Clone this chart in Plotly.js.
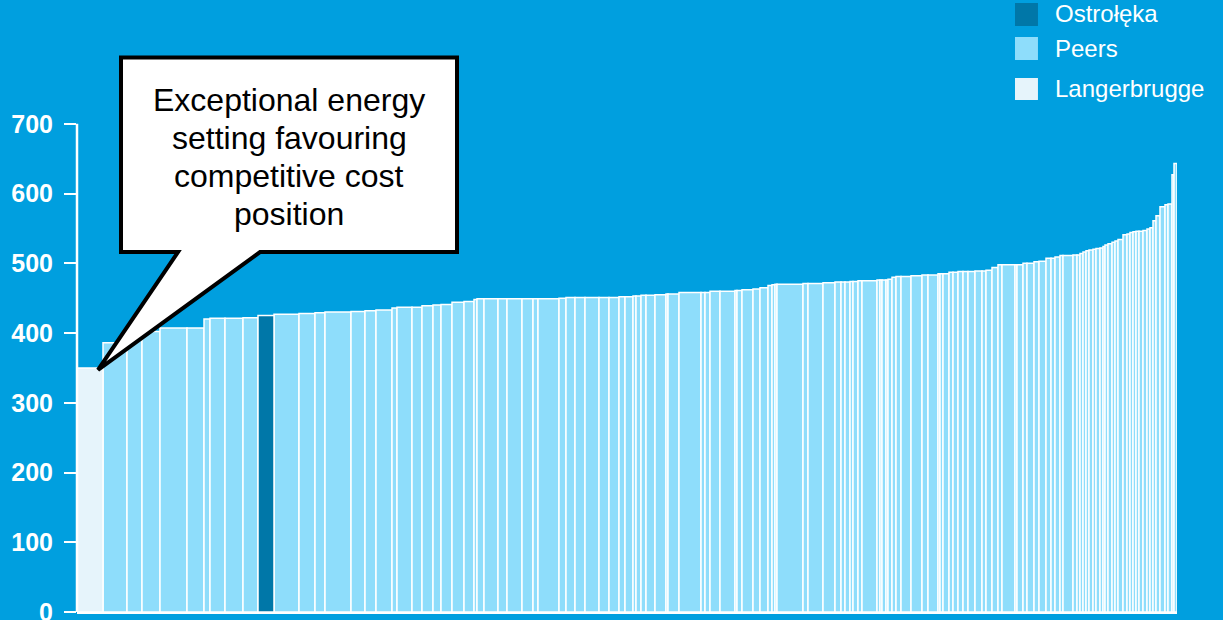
<!DOCTYPE html>
<html>
<head>
<meta charset="utf-8">
<script src="https://cdn.plot.ly/plotly-3.0.1.min.js"></script>
<style>
  html, body { margin: 0; padding: 0; background: #009FDF; }
  #chart { width: 1223px; height: 620px; }
</style>
</head>
<body>
<div id="chart"></div>
<script>
// Capacity (bar width) of each plant, ordered along the cost curve
const capacity = [26,24,15,18,27,17,6,15,18,15,16,25,16,10,26,14,11,16,5,15,
  10,11,8,11,12,10,3,7,14,9,15,11,5,21,7,9,10,14,10,10,
  6,8,3,5,5,9,11,2,11,22,4,5,10,15,2,5,11,7,8,4,
  3,2,26,5,15,12,6,4,5,3,5,4,15,3,2,4,2,4,4,5,
  10,11,6,10,2,3,6,4,5,5,5,7,7,4,6,6,4,13,2,6,
  4,7,5,7,5,4,5,3,10,4,3,3,3,3,4,3,4,3,2,3,
  4,3,3,5,4,3,3,3,3,4,4,3,3,3,4,5,3,4,2,3];
// Cost of each plant
const cost = [350,386,395,402,407,407,420,421,421,422,425,427,428,429,430,431,432,433,436,437,
  437,439,440,441,444,445,448,449,449,449,449,449,449,449,450,451,451,451,451,451,
  452,452,453,453,454,454,455,456,456,458,458,458,460,460,461,461,462,463,465,468,
  469,470,470,471,471,472,473,473,473,474,474,475,475,476,476,476,476,477,480,481,
  481,482,483,483,485,485,485,487,487,488,488,488,489,489,490,494,498,498,498,498,
  500,500,502,503,507,507,509,511,511,512,512,514,516,518,519,520,521,522,524,526,
  528,530,532,534,541,542,544,545,546,546,547,549,551,561,568,581,584,585,627,643];
const langerbruggeIdx = [0];
const ostrolekaIdx = [10];
const yTicks = [0,100,200,300,400,500,600,700];
const calloutLines = ["Exceptional energy","setting favouring","competitive cost","position"];
const legendNames = ["Ostrołęka","Peers","Langerbrugge"];

const colors = {Ostrołęka: "#0077A8", Peers: "#8EDDFB", Langerbrugge: "#E6F4FB"};

// cumulative positions
const centers = [];
let acc = 0;
for (let i = 0; i < capacity.length; i++) { centers.push(acc + capacity[i] / 2); acc += capacity[i]; }
const total = acc;

function pick(filterFn) {
  const xs = [], ys = [], ws = [];
  for (let i = 0; i < capacity.length; i++) if (filterFn(i)) { xs.push(centers[i]); ys.push(cost[i]); ws.push(capacity[i]); }
  return {xs, ys, ws};
}
function barTrace(name, sel) {
  return {type: "bar", name: name, x: sel.xs, y: sel.ys, width: sel.ws,
    marker: {color: colors[name], line: {color: "#FFFFFF", width: 1.5}},
    showlegend: false, hoverinfo: "skip"};
}
const isSpecial = i => langerbruggeIdx.includes(i) || ostrolekaIdx.includes(i);
const traces = [
  barTrace("Peers", pick(i => !isSpecial(i))),
  barTrace("Langerbrugge", pick(i => langerbruggeIdx.includes(i))),
  barTrace("Ostrołęka", pick(i => ostrolekaIdx.includes(i)))
];

const FONT = 'Arial, "Liberation Sans", sans-serif';
const shapes = [
  // y-axis line from 0 to 700
  {type: "line", xref: "paper", yref: "y", x0: 0, x1: 0, y0: 0, y1: 700, line: {color: "#FFFFFF", width: 2.5}},
  // callout box with pointer
  {type: "path", xref: "x", yref: "y", layer: "above",
   path: "M44,516 L44,795 L380,795 L380,516 L183,516 L21,347 L101,516 Z",
   fillcolor: "#FFFFFF", line: {color: "#000000", width: 4}}
];
const annotations = [];
const lineY = [734, 679.5, 625, 570.5];
calloutLines.forEach((t, k) => annotations.push({
  text: t, xref: "x", yref: "y", x: 212, y: lineY[k], showarrow: false,
  xanchor: "center", yanchor: "middle", font: {family: FONT, size: 32, color: "#000000"}
}));
// legend (manual, larger swatches)
const legSq = [[1.0914, 1.0502], [1.0305, 0.9892], [0.957, 0.9176]];
const legTextY = [1.0717, 1.009, 0.9373];
legendNames.forEach((n, k) => {
  shapes.push({type: "rect", xref: "paper", yref: "paper", x0: 0.8527, x1: 0.8736,
    y0: legSq[k][1], y1: legSq[k][0], fillcolor: colors[n], line: {width: 0}});
  annotations.push({text: n, xref: "paper", yref: "paper", x: 0.8875, y: legTextY[k],
    xanchor: "left", yanchor: "middle", showarrow: false,
    font: {family: FONT, size: 24, color: "#FFFFFF"}});
});

const layout = {
  width: 1223, height: 620,
  margin: {l: 77, r: 46, t: 54, b: 8, pad: 0},
  paper_bgcolor: "#009FDF", plot_bgcolor: "#009FDF",
  barmode: "overlay", showlegend: false,
  xaxis: {range: [0, total], showgrid: false, zeroline: false, showticklabels: false,
    ticks: "", showline: true, linecolor: "#FFFFFF", linewidth: 2, fixedrange: true},
  yaxis: {range: [0, 800], tickvals: yTicks, ticktext: yTicks.map(String),
    showgrid: false, zeroline: false, showline: false,
    ticks: "outside", ticklen: 12, tickwidth: 2, tickcolor: "#FFFFFF",
    ticklabelstandoff: 6, ticklabeloverflow: "allow",
    tickfont: {family: FONT, size: 25, color: "#FFFFFF", weight: "bold"}, fixedrange: true},
  shapes: shapes, annotations: annotations
};
Plotly.newPlot("chart", traces, layout, {staticPlot: true, displayModeBar: false});
</script>
</body>
</html>
